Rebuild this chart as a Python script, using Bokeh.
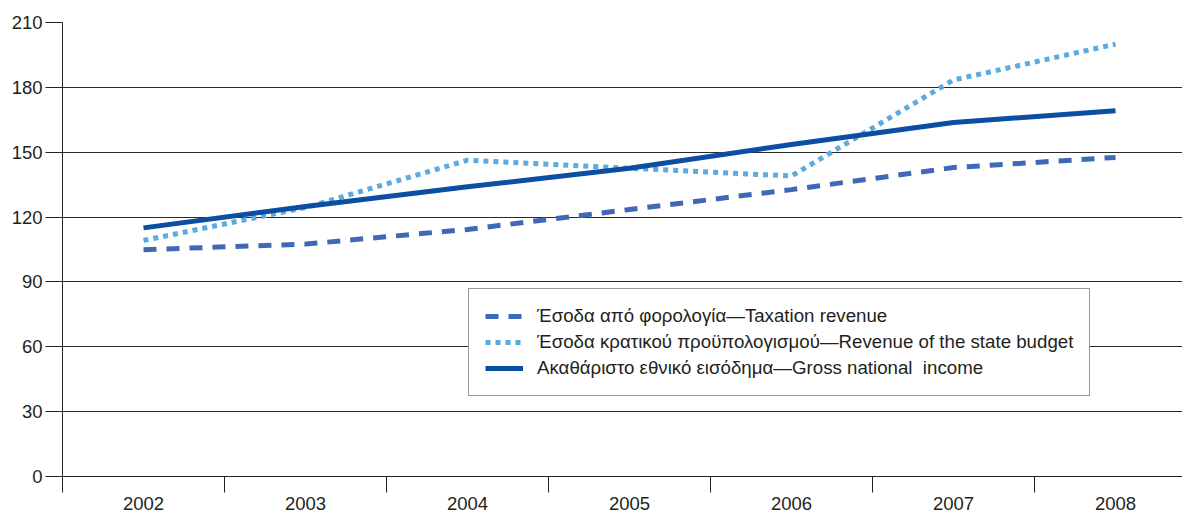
from bokeh.plotting import figure
from bokeh.models import FixedTicker, Legend, LegendItem, Range1d
from bokeh.embed import file_html
from bokeh.resources import INLINE

years = ["2002", "2003", "2004", "2005", "2006", "2007", "2008"]
taxation = [104.9, 107.5, 114.3, 123.5, 132.7, 142.9, 147.6]
state_budget = [109.2, 124.4, 146.3, 142.6, 139.0, 183.4, 200.0]
gni = [115.0, 124.9, 134.0, 142.6, 153.6, 163.7, 169.2]
y_ticks = [0, 30, 60, 90, 120, 150, 180, 210]

labels = [
    "Έσοδα από φορολογία—Taxation revenue",
    "Έσοδα κρατικού προϋπολογισμού—Revenue of the state budget",
    "Ακαθάριστο εθνικό εισόδημα—Gross national  income",
]

FONT = "Liberation Sans"
FS = "18.5px"
TXT = "#231F20"
xs = list(range(len(years)))

p = figure(width=1182, height=513, output_backend="svg", toolbar_location=None,
           x_range=Range1d(-0.5, -0.5 + 1120 / 162), y_range=Range1d(0, 210),
           min_border_left=62, min_border_right=0, min_border_top=22, min_border_bottom=37)
p.outline_line_color = None
p.background_fill_color = "white"

# axes
p.xaxis.ticker = FixedTicker(ticks=xs, minor_ticks=[i - 0.5 for i in xs])
p.xaxis.major_label_overrides = {i: y for i, y in enumerate(years)}
p.xaxis.major_tick_out = 0
p.xaxis.major_tick_in = 0
p.xaxis.minor_tick_out = 16
p.xaxis.minor_tick_in = 0
p.xaxis.minor_tick_line_color = "#222222"
p.xaxis.axis_line_color = "#222222"
p.xaxis.major_label_standoff = 4
p.xaxis.major_label_text_font = FONT
p.xaxis.major_label_text_font_size = FS
p.xaxis.major_label_text_color = TXT

p.yaxis.ticker = FixedTicker(ticks=y_ticks)
p.yaxis.major_tick_out = 17
p.yaxis.major_tick_in = 0
p.yaxis.minor_tick_line_color = None
p.yaxis.major_tick_line_color = "#222222"
p.yaxis.axis_line_color = "#222222"
p.yaxis.major_label_standoff = 3
p.yaxis.major_label_text_font = FONT
p.yaxis.major_label_text_font_size = FS
p.yaxis.major_label_text_color = TXT

p.xgrid.grid_line_color = None
p.ygrid.grid_line_color = "#2A2A2A"
p.ygrid.grid_line_width = 1

r_tax = p.line(xs, taxation, line_color="#3F69B6", line_width=5, line_dash="13 10", line_cap="butt")
r_budget = p.line(xs, state_budget, line_color="#5BAAE0", line_width=5, line_dash="5 5", line_cap="butt")
r_gni = p.line(xs, gni, line_color="#0B4EA2", line_width=5, line_cap="butt")

legend = Legend(items=[LegendItem(label=labels[0], renderers=[r_tax]),
                       LegendItem(label=labels[1], renderers=[r_budget]),
                       LegendItem(label=labels[2], renderers=[r_gni])],
                location=(406, 80), padding=16, spacing=4, margin=0,
                glyph_width=38, glyph_height=20, label_height=20, label_standoff=14,
                label_text_font=FONT, label_text_font_size="18.7px", label_text_color=TXT,
                border_line_color="#333333", border_line_width=1,
                background_fill_color="white", background_fill_alpha=1.0)
p.add_layout(legend, "center")

open("out.html", "w").write(file_html(p, INLINE))
